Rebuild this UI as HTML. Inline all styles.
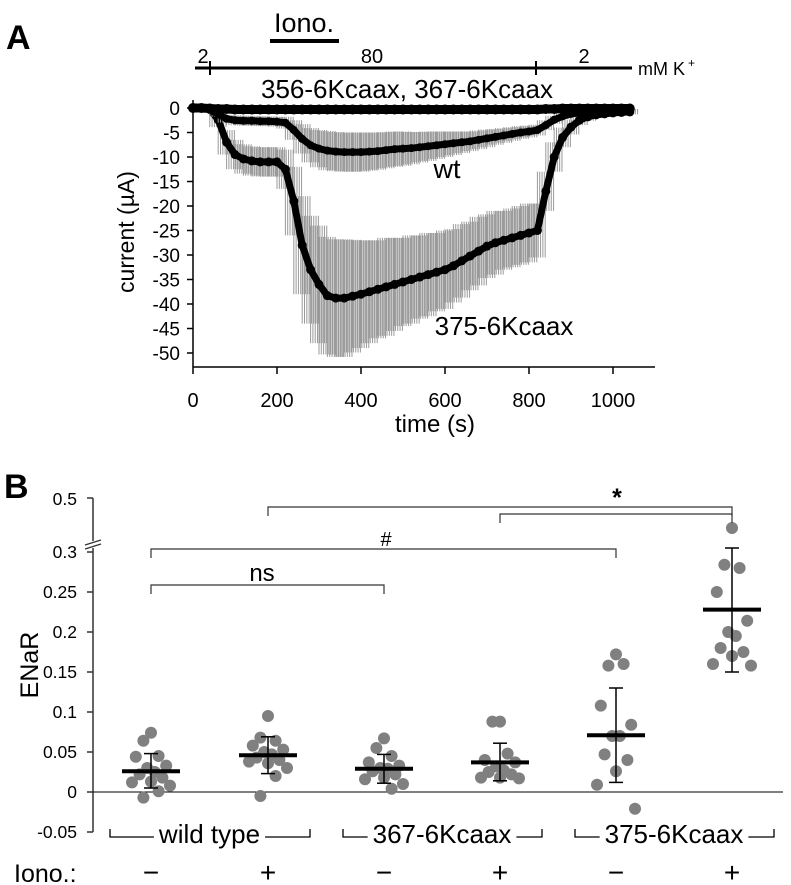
<!DOCTYPE html>
<html><head><meta charset="utf-8"><style>
body{margin:0;background:#fff}
svg{display:block;font-family:"Liberation Sans",sans-serif}
</style></head><body>
<svg id="fig" width="791" height="885" viewBox="0 0 791 885">
<text x="6" y="49" font-size="34" font-weight="bold">A</text>
<text x="4" y="498" font-size="34" font-weight="bold">B</text>
<g id="pa"></g>
<g id="pb"></g>
</svg>
<script>
// ---------- Panel A data ----------
const timeS = [0,20,40,60,80,100,120,140,160,180,200,220,240,260,280,300,320,340,360,380,400,420,440,460,480,500,520,540,560,580,600,620,640,660,680,700,720,740,760,780,800,820,840,860,880,900,920,940,960,980,1000,1020,1040];
const mean375 = [0,0,-0.3,-2.4,-7,-9.5,-10.4,-10.8,-11,-11,-11,-12.5,-19,-28,-33,-36,-38.3,-38.8,-38.8,-38.4,-38,-37.5,-37,-36.5,-36,-35.5,-35,-34.5,-34,-33.5,-33,-32.2,-31.2,-30.2,-29.2,-28.2,-27.5,-27,-26.5,-26,-25.5,-25,-17,-10,-6,-3.9,-2.5,-1.8,-1.4,-1.2,-1,-0.9,-0.8];
const sd375 = [0,0,0.5,1.5,2.5,3,3,3,3,3,3,4,7,10,11,12,12,12,12,11.5,11,10.5,10,10,9.5,9,9,8.5,8.5,8,8,7.5,7.5,7,7,6.5,6.5,6,6,6,6,5.5,4,3,2,1.5,1,0.8,0.6,0.5,0.5,0.5,0.5];
const meanWt = [0,0,-0.3,-1.3,-2.2,-2.5,-2.6,-2.6,-2.7,-2.7,-2.8,-3,-4.5,-6.3,-7.6,-8.3,-8.7,-8.9,-9,-9,-9,-8.9,-8.8,-8.6,-8.4,-8.3,-8.2,-8,-7.8,-7.6,-7.4,-7.2,-7,-6.8,-6.5,-6.2,-5.9,-5.6,-5.3,-5,-4.8,-4.5,-3.5,-2.4,-1.7,-1.2,-1,-0.8,-0.7,-0.6,-0.5,-0.5,-0.5];
const sdWt = [0,0,0.2,0.5,0.8,1,1,1,1,1,1,1.2,2,3,3.5,3.8,4,4,4,4,4,3.9,3.8,3.7,3.6,3.5,3.3,3.1,3,2.8,2.6,2.4,2.2,2,1.9,1.8,1.6,1.5,1.4,1.3,1.2,1.1,1,0.8,0.6,0.5,0.4,0.3,0.3,0.3,0.3,0.3,0.3];
const meanMut = [0,0,-0.1,-0.2,-0.2,-0.3,-0.3,-0.3,-0.3,-0.3,-0.3,-0.3,-0.3,-0.3,-0.3,-0.3,-0.3,-0.3,-0.3,-0.3,-0.3,-0.3,-0.3,-0.3,-0.3,-0.3,-0.3,-0.3,-0.3,-0.3,-0.3,-0.3,-0.3,-0.3,-0.3,-0.3,-0.3,-0.3,-0.3,-0.3,-0.3,-0.3,-0.2,-0.2,-0.1,-0.1,-0.1,-0.1,-0.1,-0.1,-0.1,-0.1,-0.1];
const aXTicks = [0,200,400,600,800,1000];
const aYTicks = [0,-5,-10,-15,-20,-25,-30,-35,-40,-45,-50];

// ---------- Panel B data ----------
const groupLabels = ["wild type","367-6Kcaax","375-6Kcaax"];
const ionoSigns = ["\u2212","+","\u2212","+","\u2212","+"];
const pts0 = [0.074,0.064,0.045,0.044,0.033,0.03,0.025,0.022,0.018,0.013,0.012,0.008,0.001,-0.007];
const pts1 = [0.095,0.068,0.064,0.058,0.053,0.05,0.047,0.043,0.04,0.036,0.038,0.03,0.02,-0.005];
const pts2 = [0.067,0.055,0.045,0.037,0.033,0.03,0.029,0.026,0.022,0.018,0.016,0.01,0.004];
const pts3 = [0.088,0.088,0.048,0.04,0.037,0.032,0.027,0.025,0.022,0.018,0.018,0.017];
const pts4 = [0.172,0.158,0.16,0.108,0.084,0.07,0.07,0.047,0.04,0.026,0.009,-0.021];
const pts5 = [0.33,0.284,0.28,0.25,0.214,0.2,0.195,0.18,0.175,0.17,0.16,0.158];
const groupMeans = [0.026,0.046,0.029,0.037,0.071,0.228];
const errLow = [0.005,0.023,0.011,0.014,0.012,0.15];
const errHigh = [0.048,0.069,0.047,0.061,0.13,0.305];
const bYTicks = [-0.05,0,0.05,0.1,0.15,0.2,0.25,0.3];
const bYTickLabels = ["-0.05","0","0.05","0.1","0.15","0.2","0.25","0.3"];

const NS="http://www.w3.org/2000/svg";
function mk(parent,tag,attrs,text){const e=document.createElementNS(NS,tag);for(const k in attrs)e.setAttribute(k,attrs[k]);if(text!==undefined)e.textContent=text;parent.appendChild(e);return e;}

// ===== Panel A =====
const pa=document.getElementById('pa');
const ax=t=>193+t*0.42;
const ay=v=>108-v*4.9;
let e;
e=mk(pa,'line',{x1:195,y1:68,x2:632,y2:68,stroke:'#000','stroke-width':3});

mk(pa,'line',{x1:210,y1:61,x2:210,y2:75,stroke:'#000','stroke-width':2});
mk(pa,'line',{x1:536,y1:61,x2:536,y2:75,stroke:'#000','stroke-width':2});
e=mk(pa,'text',{x:203,y:63,'font-size':20,'text-anchor':'middle'},'2');
e=mk(pa,'text',{x:372,y:63,'font-size':20,'text-anchor':'middle'},'80');
e=mk(pa,'text',{x:584,y:63,'font-size':20,'text-anchor':'middle'},'2');
e=mk(pa,'text',{x:638,y:75,'font-size':18},'mM K');
mk(pa,'text',{x:688,y:67,'font-size':12},'+');
e=mk(pa,'text',{x:304,y:32,'font-size':27,'text-anchor':'middle'},'Iono.');
e=mk(pa,'line',{x1:270,y1:41,x2:339,y2:41,stroke:'#000','stroke-width':4});
e=mk(pa,'line',{x1:193,y1:100,x2:193,y2:367,stroke:'#000','stroke-width':1.5});
e=mk(pa,'line',{x1:193,y1:367,x2:655,y2:367,stroke:'#000','stroke-width':1.5});
aYTicks.forEach(v=>{mk(pa,'line',{x1:187,y1:ay(v),x2:193,y2:ay(v),stroke:'#000','stroke-width':1.5});
 e=mk(pa,'text',{x:180,y:ay(v)+7,'font-size':19,'text-anchor':'end'},String(v));});
aXTicks.forEach(t=>{mk(pa,'line',{x1:ax(t),y1:367,x2:ax(t),y2:374,stroke:'#000','stroke-width':1.5});
 e=mk(pa,'text',{x:ax(t),y:407,'font-size':20,'text-anchor':'middle'},String(t));});
e=mk(pa,'text',{x:435,y:432,'font-size':24,'text-anchor':'middle'},'time (s)');
e=mk(pa,'text',{x:0,y:0,'font-size':23,'text-anchor':'middle',transform:'translate(134,232) rotate(-90)'},'current (\u00b5A)');
function series(mean,sd,name,r,sw){
 const g=mk(pa,'g',{});
 timeS.forEach((t,i)=>{if(sd[i]>0){for(let d=-8;d<=8;d+=2.2){const x=ax(t)+d*1.05;mk(g,'line',{x1:x,y1:ay(mean[i]-sd[i]),x2:x,y2:ay(mean[i]+sd[i]),stroke:'#999','stroke-width':1});}}});
 mk(g,'polyline',{points:timeS.map((t,i)=>ax(t)+','+ay(mean[i])).join(' '),fill:'none',stroke:'#000','stroke-width':sw,'stroke-linejoin':'round'});
 timeS.forEach((t,i)=>mk(g,'circle',{cx:ax(t),cy:ay(mean[i]),r:r,fill:'#000'}));
}
series(mean375,sd375,'series-375-6kcaax',4.5,7);
series(meanWt,sdWt,'series-wt',4,7);
series(meanMut,meanMut.map(()=>0),'series-356-367-6kcaax',5,9);
e=mk(pa,'text',{x:407,y:98,'font-size':26,'text-anchor':'middle'},'356-6Kcaax, 367-6Kcaax');
e=mk(pa,'text',{x:447,y:178,'font-size':27,'text-anchor':'middle'},'wt');
e=mk(pa,'text',{x:504,y:335,'font-size':26,'text-anchor':'middle'},'375-6Kcaax');

// ===== Panel B =====
const pb=document.getElementById('pb');
const gx=[151,268,384,500,616,732];
const by=v=>792-v*800;
e=mk(pb,'line',{x1:93,y1:498,x2:93,y2:832,stroke:'#333','stroke-width':1.5});
mk(pb,'rect',{x:85,y:541,width:16,height:7,fill:'#fff'});
mk(pb,'line',{x1:85,y1:545,x2:101,y2:540,stroke:'#333','stroke-width':1.3});
mk(pb,'line',{x1:85,y1:549,x2:101,y2:544,stroke:'#333','stroke-width':1.3});
mk(pb,'line',{x1:87,y1:498,x2:93,y2:498,stroke:'#333','stroke-width':1.5});
e=mk(pb,'text',{x:77,y:505,'font-size':17.5,'text-anchor':'end'},'0.5');
bYTicks.forEach((v,i)=>{mk(pb,'line',{x1:87,y1:by(v),x2:93,y2:by(v),stroke:'#333','stroke-width':1.5});
 e=mk(pb,'text',{x:77,y:by(v)+6,'font-size':17.5,'text-anchor':'end'},bYTickLabels[i]);});
e=mk(pb,'line',{x1:93,y1:by(0),x2:783,y2:by(0),stroke:'#000','stroke-width':1});
e=mk(pb,'text',{x:0,y:0,'font-size':25,'text-anchor':'middle',transform:'translate(38,665) rotate(-90)'},'ENaR');
const allPts=[pts0,pts1,pts2,pts3,pts4,pts5];
const offs=[0,-8,8,-16,16,-4,4,-12,12,0,-20,20,8,-8];
allPts.forEach((arr,gi)=>{
 const g=mk(pb,'g',{});
 arr.forEach((v,i)=>{const c=mk(g,'circle',{cx:gx[gi]+offs[i%offs.length]*0.95,cy:by(v),r:6,fill:'#808080'});
  });
});
groupMeans.forEach((m,gi)=>{
 e=mk(pb,'line',{x1:gx[gi],y1:by(errLow[gi]),x2:gx[gi],y2:by(errHigh[gi]),stroke:'#000','stroke-width':1.5});
 mk(pb,'line',{x1:gx[gi]-7,y1:by(errLow[gi]),x2:gx[gi]+7,y2:by(errLow[gi]),stroke:'#000','stroke-width':1.5});
 mk(pb,'line',{x1:gx[gi]-7,y1:by(errHigh[gi]),x2:gx[gi]+7,y2:by(errHigh[gi]),stroke:'#000','stroke-width':1.5});
 e=mk(pb,'line',{x1:gx[gi]-29,y1:by(m),x2:gx[gi]+29,y2:by(m),stroke:'#000','stroke-width':4});
});
function bracket(x1,x2,y,name){const p=mk(pb,'path',{d:`M${x1},${y+9}V${y}H${x2}V${y+9}`,fill:'none',stroke:'#333','stroke-width':1.2});}
bracket(268,732,507,'star-bracket-1');
bracket(500,732,514,'star-bracket-2');
bracket(151,616,549,'hash-bracket');
bracket(151,384,585,'ns-bracket');
e=mk(pb,'text',{x:617,y:506,'font-size':25,'text-anchor':'middle','font-weight':'bold'},'*');
e=mk(pb,'text',{x:386,y:546,'font-size':20,'text-anchor':'middle'},'#');
e=mk(pb,'text',{x:262,y:581,'font-size':24,'text-anchor':'middle'},'ns');
groupLabels.forEach((lab,i)=>{
 const cx=(gx[2*i]+gx[2*i+1])/2, x1=gx[2*i]-41, x2=gx[2*i+1]+42;
 const t=mk(pb,'text',{x:cx,y:843,'font-size':26,'text-anchor':'middle'},lab);
 const w=t.getComputedTextLength()/2+5;
 mk(pb,'path',{d:`M${x1},829V837H${cx-w}`,fill:'none',stroke:'#000','stroke-width':1.3});
 mk(pb,'path',{d:`M${cx+w},837H${x2}V829`,fill:'none',stroke:'#000','stroke-width':1.3});
});
e=mk(pb,'text',{x:14,y:882,'font-size':25},'Iono.:');
ionoSigns.forEach((s,i)=>{e=mk(pb,'text',{x:gx[i],y:882,'font-size':28,'text-anchor':'middle'},s);});
</script>
</body></html>
